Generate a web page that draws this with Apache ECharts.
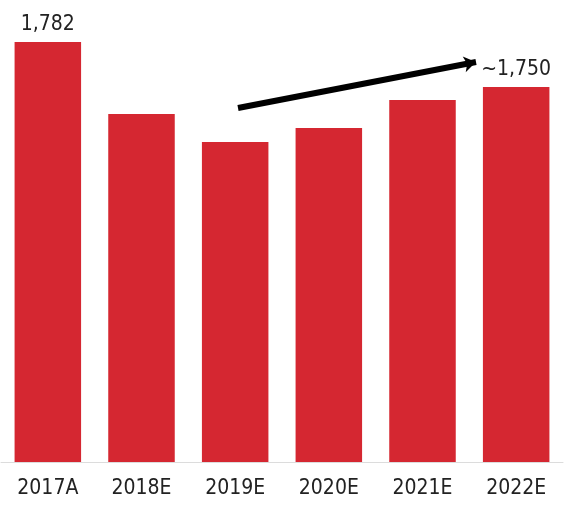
<!DOCTYPE html>
<html><head><meta charset="utf-8">
<script src="https://cdn.jsdelivr.net/npm/echarts@6/dist/echarts.min.js"></script>
<style>html,body{margin:0;padding:0;background:#fff}#c{width:565px;height:505px}</style>
</head><body><div id="c"></div>
<script>
var categories = ['2017A', '2018E', '2019E', '2020E', '2021E', '2022E'];
var values = [1782, 1477, 1358, 1417, 1536, 1591];
var valueLabels = ['1,782', '', '', '', '', '~1,750'];

var chart = echarts.init(document.getElementById('c'), null, {renderer: 'canvas'});
var FONT = 'DejaVu Sans Condensed';
var data = values.map(function (v, i) {
  return {
    value: v,
    label: {show: valueLabels[i] !== '', formatter: valueLabels[i]}
  };
});
chart.setOption({
  animation: false,
  grid: {left: 1, right: 2, top: 42, bottom: 43},
  xAxis: {
    type: 'category',
    data: categories,
    axisLine: {lineStyle: {color: '#dcdcdc', width: 1}},
    axisTick: {show: false},
    axisLabel: {color: '#222', fontFamily: FONT, fontSize: 21, margin: 16}
  },
  yAxis: {type: 'value', min: 0, max: 1782, show: false, splitLine: {show: false}},
  series: [{
    type: 'bar',
    data: data,
    barCategoryGap: '29%',
    itemStyle: {color: '#D52731'},
    label: {position: 'top', distance: 7, color: '#222', fontFamily: FONT, fontSize: 21},
    markLine: {
      silent: true,
      symbol: ['none', 'arrow'],
      symbolSize: [12, 12],
      label: {show: false},
      lineStyle: {color: '#000', width: 6, type: 'solid'},
      data: [[{x: 238, y: 108}, {x: 476, y: 62}]]
    }
  }]
});
</script></body></html>
